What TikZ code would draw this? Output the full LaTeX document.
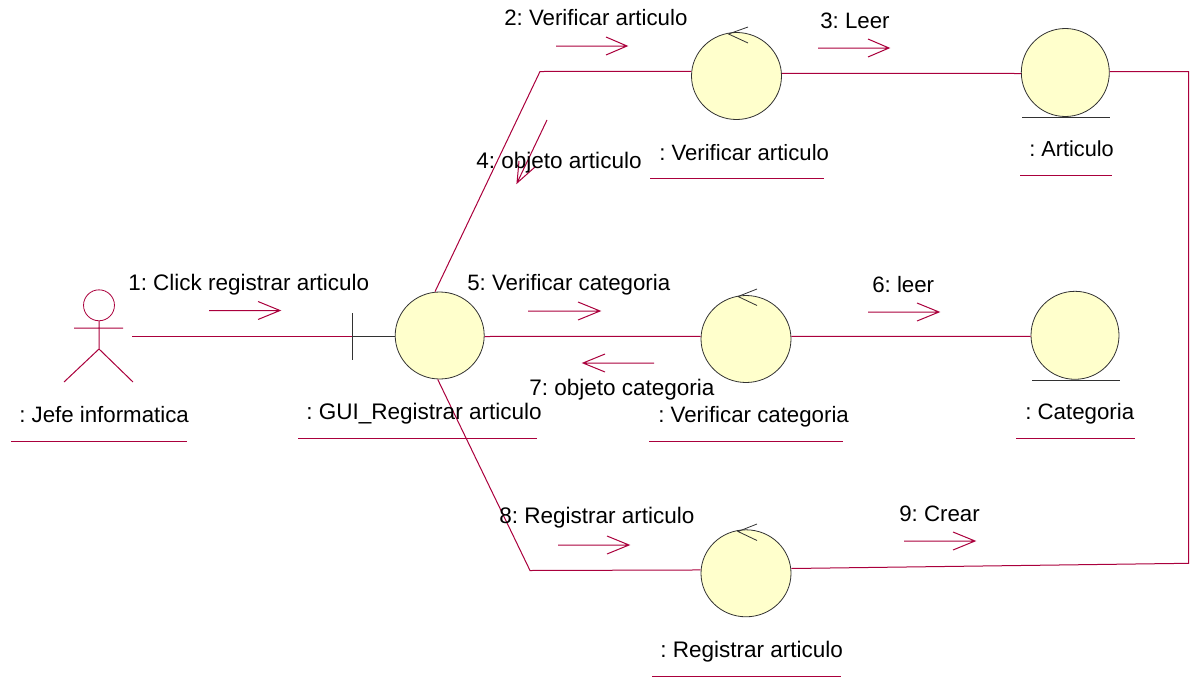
\documentclass[tikz,border=0pt]{standalone}
\usepackage{fontspec}
\usetikzlibrary{shapes.geometric}
\setmainfont{Liberation Sans}
\definecolor{umlred}{RGB}{170,0,60}
\definecolor{umlfill}{RGB}{255,255,204}
\definecolor{umlline}{RGB}{50,50,50}
\tikzset{
 x=0.75pt,y=-0.75pt,
 lnk/.style={draw=umlred,line width=0.75pt},
 obj/.style={ellipse,draw=umlline,fill=umlfill,line width=0.6pt,minimum width=67.5pt,minimum height=65.25pt,inner sep=0pt},
 ent/.style={obj,minimum width=66pt,minimum height=66pt},
 dark/.style={draw=umlline,line width=0.6pt},
 lbl/.style={inner sep=0pt,anchor=base west,font=\fontsize{#1}{18}\selectfont\frenchspacing,text=black},
 lbl/.default=16.7,
}
\begin{document}
\begin{tikzpicture}
\useasboundingbox (0,0) rectangle (1192,678);
% actor
\node[circle,draw=umlred,line width=0.6pt,minimum size=23.2pt,inner sep=0pt] (head) at (99,305.3) {};
\coordinate (hip) at (99,349);
\coordinate (armL) at (74,328);
\coordinate (armR) at (123,328);
\coordinate (legL) at (64,382);
\coordinate (legR) at (133,382);
\draw[lnk] (head.south) -- (hip) (armL) -- (armR) (legL) -- (hip) -- (legR);
% nodes
\node[obj,minimum width=66.75pt] (gui) at (439.7,335.5) {};
\node[obj] (va) at (736.5,76) {};
\node[ent] (art) at (1065.3,72.5) {};
\node[obj] (vc) at (746,339) {};
\node[ent] (cat) at (1075,335.3) {};
\node[obj] (ra) at (746,573.3) {};
% boundary
\coordinate (bt) at (352,313);
\coordinate (bb) at (352,360);
\coordinate (bm) at (352,336.5);
\draw[dark] (bt) -- (bb) (bm) -- ([yshift=-0.75pt]gui.west);
% control arrows
\coordinate (vat) at (728.5,34);
\draw[dark] (748,27) -- (vat) -- (748,43);
\coordinate (vct) at (738,296.5);
\draw[dark] (757,289) -- (vct) -- (757,305.5);
\coordinate (rat) at (738,531.5);
\draw[dark] (757,524) -- (rat) -- (757,540.5);
% entity underlines
\coordinate (al) at (1022,117.5); \coordinate (ar) at (1110,117.5);
\draw[dark] (al) -- (ar);
\coordinate (cl) at (1032,380); \coordinate (cr) at (1120,380);
\draw[dark] (cl) -- (cr);
% links
\coordinate (act) at (132,336.5);
\draw[lnk] (act) -- (bm);
\coordinate (c1) at (540,71.5);
\draw[lnk] ([xshift=-3.5pt]gui.north) -- (c1) -- ([yshift=3.4pt]va.west);
\draw[lnk] ([yshift=1.9pt]va.east) -- ([yshift=-0.75pt]art.west);
\draw[lnk] ([yshift=-0.75pt]gui.east) -- ([yshift=2pt]vc.west);
\draw[lnk] ([yshift=2pt]vc.east) -- ([yshift=-0.75pt]cat.west);
\coordinate (c2) at (530,570.5);
\draw[lnk] ([xshift=-1.5pt]gui.south) -- (c2) -- ([yshift=2.5pt]ra.west);
\coordinate (c3) at (1188.5,71.5);
\coordinate (c4) at (1188.5,563.3);
\draw[lnk] ([yshift=0.75pt]art.east) -- (c3) -- (c4) -- ([yshift=3.6pt]ra.east);
% message arrows
\coordinate (m1a) at (209,310.5); \coordinate (m1b) at (280,310.5);
\draw[lnk] (m1a) -- (m1b) (258,301.5) -- (m1b) -- (258,319.5);
\coordinate (m2a) at (556,46); \coordinate (m2b) at (627,46);
\draw[lnk] (m2a) -- (m2b) (606,37) -- (m2b) -- (606,55);
\coordinate (m3a) at (818,48); \coordinate (m3b) at (889,48);
\draw[lnk] (m3a) -- (m3b) (868,39) -- (m3b) -- (868,57);
\coordinate (m4a) at (547,120); \coordinate (m4b) at (517,183);
\draw[lnk] (m4a) -- (m4b) (519,161) -- (m4b) -- (535,167);
\coordinate (m5a) at (528,311); \coordinate (m5b) at (600,311);
\draw[lnk] (m5a) -- (m5b) (578,302) -- (m5b) -- (578,320);
\coordinate (m6a) at (868,312); \coordinate (m6b) at (939,312);
\draw[lnk] (m6a) -- (m6b) (917,303) -- (m6b) -- (917,321);
\coordinate (m7a) at (654,363); \coordinate (m7b) at (583,363);
\draw[lnk] (m7a) -- (m7b) (605,354) -- (m7b) -- (605,372);
\coordinate (m8a) at (558,545); \coordinate (m8b) at (629,545);
\draw[lnk] (m8a) -- (m8b) (607,536) -- (m8b) -- (607,554);
\coordinate (m9a) at (904,541); \coordinate (m9b) at (975,541);
\draw[lnk] (m9a) -- (m9b) (953,532) -- (m9b) -- (953,550);
% labels
\node[lbl=16.85] (t1) at (128,290) {1: Click registrar articulo};
\node[lbl] (t2) at (504,25) {2: Verificar articulo};
\node[lbl] (t3) at (820,28) {3: Leer};
\node[lbl=16.9] (t4) at (476,168) {4: objeto articulo};
\node[lbl] (t5) at (467,290) {5: Verificar categoria};
\node[lbl] (t6) at (872,292) {6: leer};
\node[lbl=16.88] (t7) at (529,395) {7: objeto categoria};
\node[lbl=16.88] (t8) at (499,523) {8: Registrar articulo};
\node[lbl] (t9) at (899,521) {9: Crear};
\node[lbl] (n1) at (19,422) {: Jefe informatica};
\node[lbl=16.9] (n2) at (306,419) {: GUI\_Registrar articulo};
\node[lbl=16.6] (n3) at (659,160) {: Verificar articulo};
\node[lbl=16.3] (n4) at (1029,156.5) {: Articulo};
\node[lbl] (n5) at (658,422) {: Verificar categoria};
\node[lbl] (n6) at (1025,419) {: Categoria};
\node[lbl=16.88] (n7) at (660,657) {: Registrar articulo};
% name underlines
\coordinate (u1a) at (11,441); \coordinate (u1b) at (187,441); \draw[lnk] (u1a) -- (u1b);
\coordinate (u2a) at (298,438); \coordinate (u2b) at (537,438); \draw[lnk] (u2a) -- (u2b);
\coordinate (u3a) at (650,178); \coordinate (u3b) at (824,178); \draw[lnk] (u3a) -- (u3b);
\coordinate (u4a) at (1020,175.5); \coordinate (u4b) at (1112,175.5); \draw[lnk] (u4a) -- (u4b);
\coordinate (u5a) at (649,441); \coordinate (u5b) at (843,441); \draw[lnk] (u5a) -- (u5b);
\coordinate (u6a) at (1016,438); \coordinate (u6b) at (1135,438); \draw[lnk] (u6a) -- (u6b);
\coordinate (u7a) at (652,676); \coordinate (u7b) at (841,676); \draw[lnk] (u7a) -- (u7b);
\end{tikzpicture}
\end{document}
